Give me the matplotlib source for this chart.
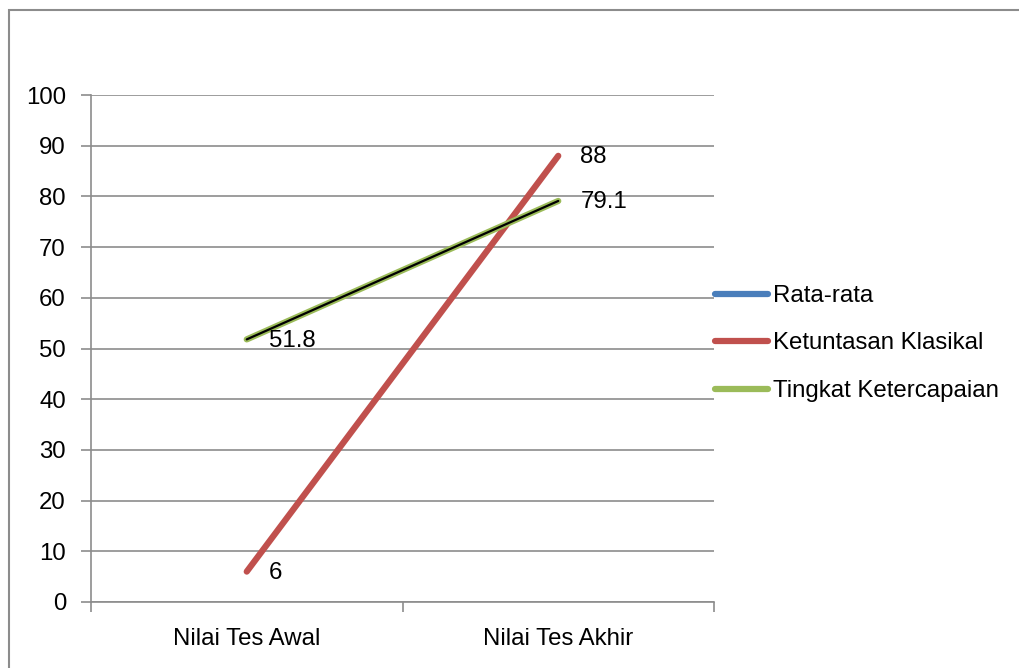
import numpy as np
import matplotlib.pyplot as plt
from matplotlib.patches import Rectangle

categories = ['Nilai Tes Awal', 'Nilai Tes Akhir']
rata_rata = [np.nan, np.nan]
ketuntasan = [6, 88]
ketercapaian = [51.8, 79.1]

plt.rcParams['font.family'] = ['Liberation Sans', 'DejaVu Sans']
fs = 17.3

fig = plt.figure(figsize=(10.19, 6.68), dpi=100)
ax = fig.add_axes([91 / 1019, 66 / 668, 623 / 1019, 507 / 668])

# outer chart border (runs off the right and bottom edges)
fig.patches.append(Rectangle((8.5 / 1019, -0.1), 1.2, (668 - 10.5) / 668 + 0.1,
                             transform=fig.transFigure, fill=False,
                             edgecolor='#8c8c8c', linewidth=1.5))

x = np.arange(len(categories))
ax.plot(x, rata_rata, color='#4a7ebb', linewidth=4.5, solid_capstyle='round', label='Rata-rata')
ax.plot(x, ketuntasan, color='#c0504d', linewidth=4.5, solid_capstyle='round', label='Ketuntasan Klasikal')
ax.plot(x, ketercapaian, color='#9bbb59', linewidth=4.5, solid_capstyle='round', label='Tingkat Ketercapaian')
ax.plot(x, ketercapaian, color='black', linewidth=1.6, solid_capstyle='round')

for series in (ketuntasan, ketercapaian):
    for xi, v in zip(x, series):
        ax.annotate(f'{v:g}', (xi, v), xytext=(16, -1), textcoords='offset points',
                    ha='left', va='center', fontsize=fs)

ax.set_xlim(-0.5, 1.5)
ax.set_ylim(0, 100)
ax.set_yticks(np.arange(0, 101, 10))
ax.set_xticks([-0.5, 0.5, 1.5])
ax.set_xticklabels([])
ax.set_xticks(x, minor=True)
ax.set_xticklabels(categories, minor=True)
ax.tick_params(axis='x', which='minor', length=0, pad=19, labelsize=fs)
ax.tick_params(axis='x', which='major', length=7, color='#8c8c8c', width=1.2)
ax.tick_params(axis='y', length=7, color='#8c8c8c', width=1.2, pad=11, labelsize=fs)
ax.grid(axis='y', color='#8c8c8c', linewidth=1.2)
ax.set_axisbelow(True)
for s in ('top', 'right'):
    ax.spines[s].set_visible(False)
for s in ('left', 'bottom'):
    ax.spines[s].set_color('#8c8c8c')
    ax.spines[s].set_linewidth(1.2)

ax.legend(loc='center left', bbox_to_anchor=(1.0, 0.5 + 5 / 507), frameon=False,
          handlelength=2.2, handletextpad=0.2, labelspacing=1.06, borderpad=0,
          borderaxespad=0.05, fontsize=fs)

fig.savefig('out.png', dpi=100)
